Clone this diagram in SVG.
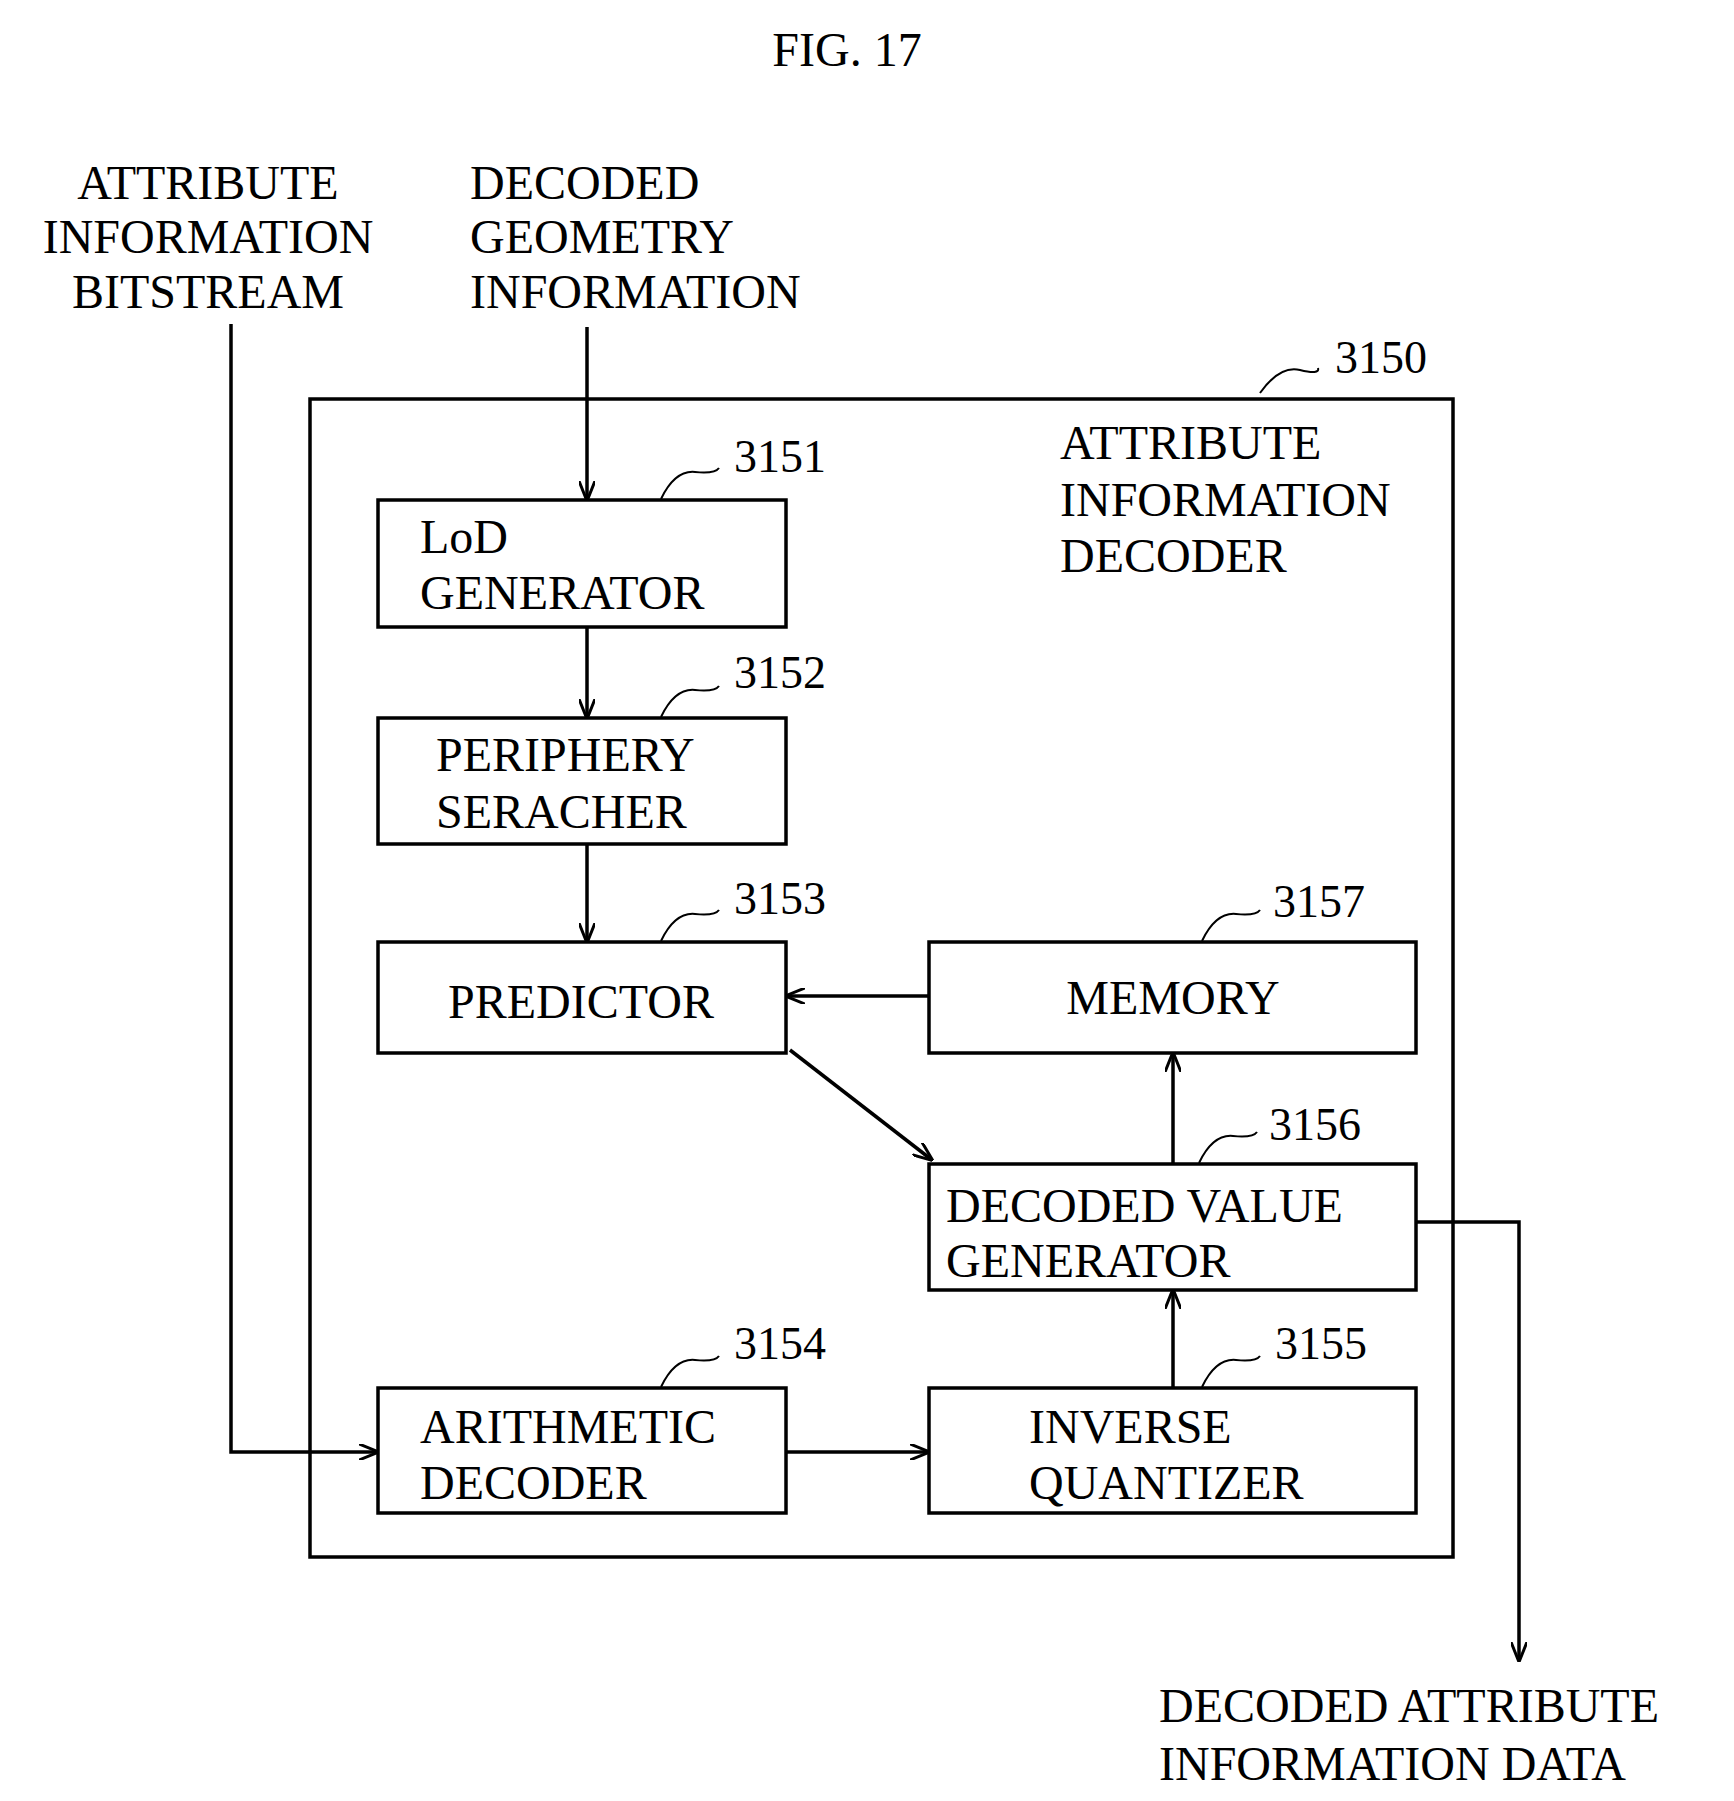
<svg xmlns="http://www.w3.org/2000/svg" width="1734" height="1801" viewBox="0 0 1734 1801">
<style>
text{font-family:"Liberation Serif","DejaVu Serif",serif;font-size:48px;fill:#000}
.ref{font-size:46px}
.b{fill:#fff;stroke:#000;stroke-width:3.5}
.c{fill:none;stroke:#000;stroke-width:3.5}
.l{fill:none;stroke:#000;stroke-width:2}
</style>
<defs><marker id="a" viewBox="0 0 20 16" refX="19" refY="8" markerWidth="20" markerHeight="16" markerUnits="userSpaceOnUse" orient="auto"><path d="M0,0 L20,8 L0,16" fill="none" stroke="#000" stroke-width="3"/></marker></defs>
<rect width="1734" height="1801" fill="#fff"/>
<text x="847" y="66" text-anchor="middle" font-size="54">FIG. 17</text>
<g id="in1"><text x="208" y="199" text-anchor="middle">ATTRIBUTE</text><text x="208" y="253" text-anchor="middle">INFORMATION</text><text x="208" y="308" text-anchor="middle">BITSTREAM</text></g>
<g id="in2"><text x="470" y="199">DECODED</text><text x="470" y="253">GEOMETRY</text><text x="470" y="308">INFORMATION</text></g>
<g id="n3150"><rect class="b" x="310" y="399" width="1143" height="1158"/><text x="1060" y="459">ATTRIBUTE</text><text x="1060" y="516">INFORMATION</text><text x="1060" y="572">DECODER</text><text class="ref" x="1335" y="373">3150</text><path class="l" d="M1260,393 Q1280,365 1300,370 T1318,368"/></g>
<g id="n3151"><rect class="b" x="378" y="500" width="408" height="127"/><text x="420" y="553">LoD</text><text x="420" y="609">GENERATOR</text><text class="ref" x="734" y="472">3151</text><path class="l" d="M661,499 Q675,470 695,472 T719,468"/></g>
<g id="n3152"><rect class="b" x="378" y="718" width="408" height="126"/><text x="436" y="771">PERIPHERY</text><text x="436" y="828">SERACHER</text><text class="ref" x="734" y="688">3152</text><path class="l" d="M661,717 Q675,688 695,690 T719,686"/></g>
<g id="n3153"><rect class="b" x="378" y="942" width="408" height="111"/><text x="581" y="1018" text-anchor="middle">PREDICTOR</text><text class="ref" x="734" y="914">3153</text><path class="l" d="M661,941 Q675,912 695,914 T719,910"/></g>
<g id="n3157"><rect class="b" x="929" y="942" width="487" height="111"/><text x="1173" y="1014" text-anchor="middle">MEMORY</text><text class="ref" x="1273" y="917">3157</text><path class="l" d="M1202,941 Q1216,912 1236,914 T1260,910"/></g>
<g id="n3156"><rect class="b" x="929" y="1164" width="487" height="126"/><text x="946" y="1222">DECODED VALUE</text><text x="946" y="1277">GENERATOR</text><text class="ref" x="1269" y="1140">3156</text><path class="l" d="M1199,1163 Q1213,1134 1233,1136 T1257,1132"/></g>
<g id="n3154"><rect class="b" x="378" y="1388" width="408" height="125"/><text x="420" y="1443">ARITHMETIC</text><text x="420" y="1499">DECODER</text><text class="ref" x="734" y="1359">3154</text><path class="l" d="M661,1387 Q675,1358 695,1360 T719,1356"/></g>
<g id="n3155"><rect class="b" x="929" y="1388" width="487" height="125"/><text x="1029" y="1443">INVERSE</text><text x="1029" y="1499">QUANTIZER</text><text class="ref" x="1275" y="1359">3155</text><path class="l" d="M1202,1387 Q1216,1358 1236,1360 T1260,1356"/></g>
<g id="out"><text x="1159" y="1722">DECODED ATTRIBUTE</text><text x="1159" y="1780">INFORMATION DATA</text></g>
<g id="connectors">
<path class="c" marker-end="url(#a)" d="M231,324 V1452 H378"/>
<path class="c" marker-end="url(#a)" d="M587,327 V500"/>
<path class="c" marker-end="url(#a)" d="M587,627 V718"/>
<path class="c" marker-end="url(#a)" d="M587,844 V942"/>
<path class="c" marker-end="url(#a)" d="M929,996 H786"/>
<path class="c" marker-end="url(#a)" d="M790,1050 L932,1160"/>
<path class="c" marker-end="url(#a)" d="M1173,1164 V1053"/>
<path class="c" marker-end="url(#a)" d="M1173,1388 V1290"/>
<path class="c" marker-end="url(#a)" d="M786,1452 H929"/>
<path class="c" marker-end="url(#a)" d="M1416,1222 H1519 V1661"/>
</g>
</svg>
